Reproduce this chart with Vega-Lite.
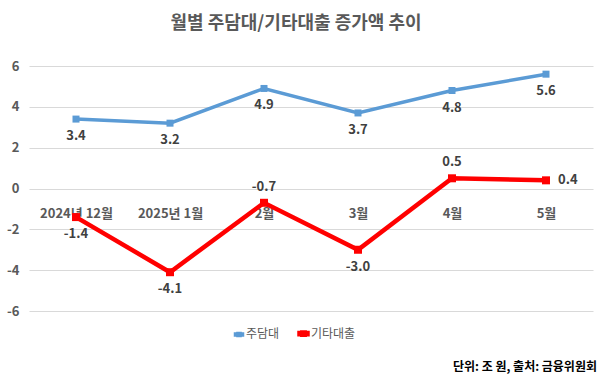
{
  "$schema": "https://vega.github.io/schema/vega-lite/v6.json",
  "background": "white",
  "padding": {"left": 3, "top": 15, "right": 5, "bottom": 5},
  "config": {"font": "Noto Sans CJK KR", "view": {"stroke": null},
             "locale": {"number": {"decimal": ".", "thousands": ",", "grouping": [3], "currency": ["$", ""], "minus": "-"}}},
  "title": {"text": "월별 주담대/기타대출 증가액 추이", "fontSize": 18, "fontWeight": "bold", "color": "#595959", "anchor": "middle", "offset": 27, "dx": -4},
  "vconcat": [
    {
      "width": 564,
      "height": 245,
      "title": {"text": "단위: 조 원, 출처: 금융위원회", "orient": "bottom", "anchor": "end", "frame": "group", "fontSize": 12, "fontWeight": "bold", "color": "#000000", "offset": 44, "dx": 4},
      "data": {"values": [
        {"month": "2024년 12월", "series": "주담대", "value": 3.4},
        {"month": "2025년 1월", "series": "주담대", "value": 3.2},
        {"month": "2월", "series": "주담대", "value": 4.9},
        {"month": "3월", "series": "주담대", "value": 3.7},
        {"month": "4월", "series": "주담대", "value": 4.8},
        {"month": "5월", "series": "주담대", "value": 5.6},
        {"month": "2024년 12월", "series": "기타대출", "value": -1.4},
        {"month": "2025년 1월", "series": "기타대출", "value": -4.1},
        {"month": "2월", "series": "기타대출", "value": -0.7},
        {"month": "3월", "series": "기타대출", "value": -3.0},
        {"month": "4월", "series": "기타대출", "value": 0.5},
        {"month": "5월", "series": "기타대출", "value": 0.4}
      ]},
      "encoding": {
        "x": {"field": "month", "type": "ordinal", "sort": null, "scale": {"type": "point", "padding": 0.5},
              "axis": {"orient": "bottom", "offset": -122.5, "domain": false, "ticks": false, "grid": false, "labelPadding": 19, "labelFontSize": 13, "labelFontWeight": "bold", "labelColor": "#595959", "labelAngle": 0, "title": null}},
        "y": {"field": "value", "type": "quantitative", "scale": {"domain": [-6, 6], "nice": false, "zero": false},
              "axis": {"values": [-6, -4, -2, 0, 2, 4, 6], "domain": false, "ticks": false, "gridColor": "#d9d9d9", "labelPadding": 10, "labelFontSize": 13, "labelFontWeight": "bold", "labelColor": "#595959", "title": null, "minExtent": 26, "maxExtent": 26}}
      },
      "layer": [
        {
          "mark": {"type": "line"},
          "encoding": {
            "color": {"field": "series", "type": "nominal", "scale": {"domain": ["주담대", "기타대출"], "range": ["#5b9bd5", "#ff0000"]},
                      "legend": {"orient": "none", "legendX": 204, "legendY": 261, "direction": "horizontal", "title": null, "labelFontSize": 12, "labelColor": "#595959", "symbolType": "M-1,-0.14H1V0.14H-1Z M-0.3,-0.3H0.3V0.3H-0.3Z", "symbolSize": 1000, "columnPadding": 10, "labelOffset": 1,
                                 "encode": {"symbols": {"update": {"fill": {"scale": "color", "field": "value"}, "strokeWidth": {"value": 0}}}}}},
            "strokeWidth": {"field": "series", "type": "nominal", "scale": {"domain": ["주담대", "기타대출"], "range": [3.5, 4.5]}, "legend": null}
          }
        },
        {
          "mark": {"type": "point", "shape": "square", "filled": true, "opacity": 1},
          "encoding": {
            "color": {"field": "series", "type": "nominal", "legend": null},
            "size": {"field": "series", "type": "nominal", "scale": {"domain": ["주담대", "기타대출"], "range": [49, 64]}, "legend": null}
          }
        },
        {
          "transform": [{"filter": "datum.series === '주담대' || datum.value < -1"}],
          "mark": {"type": "text", "dy": 17, "fontSize": 13, "fontWeight": "bold", "color": "#404040"},
          "encoding": {"text": {"field": "value", "type": "quantitative", "format": ".1f"}}
        },
        {
          "transform": [{"filter": "datum.series === '기타대출' && (datum.month === '2월' || datum.month === '4월')"}],
          "mark": {"type": "text", "dy": -16, "fontSize": 13, "fontWeight": "bold", "color": "#404040"},
          "encoding": {"text": {"field": "value", "type": "quantitative", "format": ".1f"}}
        },
        {
          "transform": [{"filter": "datum.series === '기타대출' && datum.month === '5월'"}],
          "mark": {"type": "text", "dx": 12, "align": "left", "fontSize": 13, "fontWeight": "bold", "color": "#404040"},
          "encoding": {"text": {"field": "value", "type": "quantitative", "format": ".1f"}}
        }
      ]
    }
  ]
}
